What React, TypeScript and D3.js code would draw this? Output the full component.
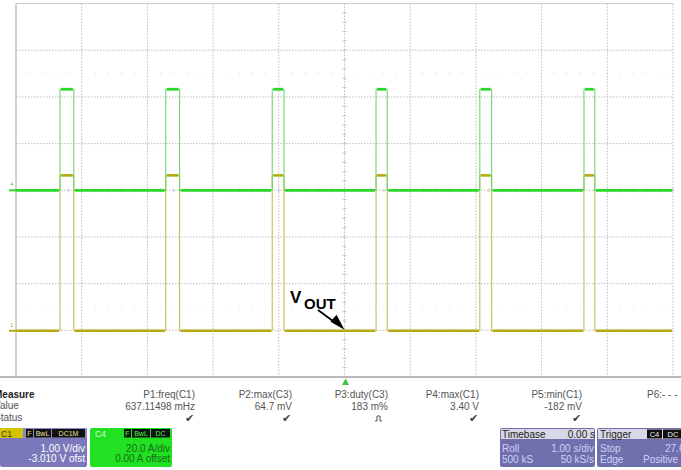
import React from 'react';
import * as d3 from 'd3';

const W = 681;
const H = 470;

// Timebase: 1.00 s/div, 10 divisions, centred on trigger at 0 s
const timeDomain = [-5, 5];
const timeDivTicks = [-4, -3, -2, -1, 0, 1, 2, 3, 4, 5];
const vertDivTicks = [-4, -3, -2, -1, 0, 1, 2, 3, 4];

// Pulse edges (seconds)
const pulseStarts = [-4.33, -2.72, -1.1, 0.48, 2.06, 3.645];
const pulseEnds = [-4.12, -2.51, -0.92, 0.65, 2.24, 3.81];

// C1 (Vout): 1.00 V/div, -3.010 V offset
const c1VoltsPerDiv = 1.0;
const c1Offset = -3.01;
const c1Low = 0.0;
const c1High = 3.33;

// C4 (current): 20.0 A/div, 0.00 A offset
const c4AmpsPerDiv = 20.0;
const c4Offset = 0;
const c4Low = 0.0;
const c4High = 43.3;

// Measurement table
const measureLabels = ['Measure', 'Value', 'Status'];
const paramNames = ['P1:freq(C1)', 'P2:max(C3)', 'P3:duty(C3)', 'P4:max(C1)', 'P5:min(C1)', 'P6:- - -'];
const paramValues = ['637.11498 mHz', '64.7 mV', '183 m%', '3.40 V', '-182 mV', ''];
const paramStatus = ['check', 'check', 'pulse', 'check', 'check', ''];

const FONT = '"Liberation Sans", Arial, sans-serif';

const X0 = 16, X1 = 673, Y0 = 3.6, Y1 = 377;

function buildTrace(low: number, high: number): [number, number][] {
  const pts: [number, number][] = [[timeDomain[0], low]];
  pulseStarts.forEach((s, i) => {
    pts.push([s, low], [s, high], [pulseEnds[i], high], [pulseEnds[i], low]);
  });
  pts.push([timeDomain[1], low]);
  return pts;
}

function flatSegments(low: number, high: number): [number, number, number][] {
  const segs: [number, number, number][] = [];
  let prev = timeDomain[0];
  pulseStarts.forEach((s, i) => {
    segs.push([prev, s, low]);
    segs.push([s, pulseEnds[i], high]);
    prev = pulseEnds[i];
  });
  segs.push([prev, timeDomain[1], low]);
  return segs;
}

export default function App() {
  const x = d3.scaleLinear().domain(timeDomain).range([X0, X1]);
  const div = d3.scaleLinear().domain([-4, 4]).range([Y1, Y0]);
  const yC1 = (v: number) => div((v + c1Offset) / c1VoltsPerDiv);
  const yC4 = (a: number) => div((a + c4Offset) / c4AmpsPerDiv);
  const cx = x(0);
  const cy = div(0);

  const lineC1 = d3.line<[number, number]>().x(d => x(d[0])).y(d => yC1(d[1]));
  const lineC4 = d3.line<[number, number]>().x(d => x(d[0])).y(d => yC4(d[1]));

  const yellow = '#b4ab10';
  const yellowEdge = '#c2b84a';
  const green = '#2ad82a';
  const greenEdge = '#5fd45f';
  const gridCol = '#bdbdbd';

  const minorY = d3.range(-4, 4.001, 0.2);
  const minorX = d3.range(-5, 5.001, 0.2);

  const colRight = [195, 292, 388, 479, 582, 684];
  const rowY = [397.5, 409.5];

  return (
    <svg width={W} height={H} style={{ position: 'absolute', left: 0, top: 0, background: '#fff' }} fontFamily={FONT}>
      <rect x={0} y={0} width={W} height={H} fill="#ffffff" />
      {/* grid */}
      {timeDivTicks.map(t => (
        <line key={'vx' + t} x1={x(t)} x2={x(t)} y1={Y0} y2={Y1} stroke={gridCol} strokeWidth={1} strokeDasharray="1.5,1.5" />
      ))}
      {vertDivTicks.map(d => (
        <line key={'hy' + d} x1={X0} x2={X1} y1={div(d)} y2={div(d)} stroke={gridCol} strokeWidth={1} strokeDasharray="1.5,1.5" />
      ))}
      {[-2.5, 2.5].map(d => (
        <line key={'fd' + d} x1={X0} x2={X1} y1={div(d)} y2={div(d)} stroke="#dedede" strokeWidth={1} strokeDasharray="1.5,11.6" />
      ))}
      {minorY.map(d => (
        <line key={'my' + d} x1={cx - 2} x2={cx + 2} y1={div(d)} y2={div(d)} stroke="#c4c4c4" strokeWidth={1} />
      ))}
      {minorX.map(t => (
        <line key={'mx' + t} x1={x(t)} x2={x(t)} y1={cy - 2} y2={cy + 2} stroke="#c4c4c4" strokeWidth={1} />
      ))}
      {/* border */}
      <line x1={X0} x2={X1} y1={Y0} y2={Y0} stroke="#cfcfcf" strokeWidth={1} />
      <line x1={X0} x2={X0} y1={Y0} y2={Y1} stroke="#a8a8a8" strokeWidth={1} />
      <line x1={0} x2={W} y1={Y1} y2={Y1} stroke="#b8b8b8" strokeWidth={2} />

      {/* channel markers */}
      <line x1={9} x2={X0} y1={yC1(0)} y2={yC1(0)} stroke={yellow} strokeWidth={2} />
      <text x={10} y={yC1(0) - 4} fontSize={6} fill={yellow}>1</text>
      <line x1={9} x2={X0} y1={yC4(0)} y2={yC4(0)} stroke={green} strokeWidth={2} />
      <text x={10} y={yC4(0) - 4} fontSize={6} fill="#6bc06b">4</text>

      {/* C1 trace */}
      <path d={lineC1(buildTrace(c1Low, c1High)) || ''} fill="none" stroke={yellowEdge} strokeWidth={1} />
      {flatSegments(c1Low, c1High).map((s, i) => (
        <line key={'c1s' + i} x1={x(s[0]) + (i > 0 ? 1 : 0)} x2={x(s[1]) - 1} y1={yC1(s[2])} y2={yC1(s[2])} stroke={yellow} strokeWidth={2.6} />
      ))}
      {/* C4 trace */}
      <path d={lineC4(buildTrace(c4Low, c4High)) || ''} fill="none" stroke={greenEdge} strokeWidth={1} />
      {flatSegments(c4Low, c4High).map((s, i) => (
        <line key={'c4s' + i} x1={x(s[0]) + (i > 0 ? 1 : 0)} x2={x(s[1]) - 1} y1={yC4(s[2])} y2={yC4(s[2])} stroke={green} strokeWidth={2.8} />
      ))}

      {/* VOUT annotation */}
      <text x={290} y={303} fontSize={17} fontWeight="bold" fill="#000">V</text>
      <text x={304} y={308.5} fontSize={15} fontWeight="bold" fill="#000">OUT</text>
      <line x1={318} x2={337} y1={310} y2={324} stroke="#000" strokeWidth={1.8} />
      <path d={`M${cx},${yC1(0) - 1} L${cx - 14},${yC1(0) - 9} L${cx - 8},${yC1(0) - 16} Z`} fill="#000" />

      {/* trigger marker */}
      <path d={`M${cx + 1},378.5 L${cx + 4.5},385 L${cx - 2.5},385 Z`} fill="#3cc83c" />

      {/* measurement table */}
      {measureLabels.map((l, i) => (
        <text key={l} x={-6} y={397.5 + i * 11.5} fontSize={10} fill={i === 0 ? '#222' : '#555'} fontWeight={i === 0 ? 'bold' : 'normal'}>{l}</text>
      ))}
      {paramNames.map((p, i) => (
        i < 5 ? (
          <text key={p} x={colRight[i]} y={rowY[0]} fontSize={10} fill="#555" textAnchor="end">{p}</text>
        ) : (
          <text key={p} x={647} y={rowY[0]} fontSize={10} fill="#555">{p}</text>
        )
      ))}
      {paramValues.map((v, i) => (
        <text key={'v' + i} x={colRight[i]} y={rowY[1]} fontSize={10} fill="#555" textAnchor="end">{v}</text>
      ))}
      {paramStatus.map((s, i) => s === 'check' ? (
        <text key={'s' + i} x={colRight[i] - 1} y={422} fontSize={11} fill="#444" textAnchor="end">✔</text>
      ) : s === 'pulse' ? (
        <path key={'s' + i} d={`M${colRight[i] - 13},421 h2 v-5 h3 v5 h2`} fill="none" stroke="#555" strokeWidth={1} />
      ) : null)}

      {/* C1 box */}
      <rect x={0} y={428} width={87} height={39} rx={2} fill="#7b79bb" />
      <rect x={0} y={428} width={87} height={10} fill="#8c8ac4" />
      <rect x={0} y={428} width={23} height={10} fill="#d4c400" />
      <text x={1} y={436.5} fontSize={8.5} fill="#333">C1</text>
      <rect x={26} y={429} width={7} height={8.5} fill="#111" />
      <text x={29.5} y={436} fontSize={7} fill="#e8e0a0" textAnchor="middle">F</text>
      <rect x={34} y={429} width={17} height={8.5} fill="#111" />
      <text x={42.5} y={436} fontSize={7} fill="#e8e0a0" textAnchor="middle">BwL</text>
      <rect x={52} y={429} width={33} height={8.5} fill="#111" />
      <text x={68.5} y={436} fontSize={7} fill="#e8e0a0" textAnchor="middle">DC1M</text>
      <text x={85} y={451.5} fontSize={10} fill="#fff" textAnchor="end">1.00 V/div</text>
      <text x={85} y={462} fontSize={10} fill="#fff" textAnchor="end">-3.010 V ofst</text>

      {/* C4 box */}
      <rect x={90} y={428} width={82} height={39} rx={2} fill="#22e022" />
      <text x={95} y={436.5} fontSize={8.5} fill="#d8ffd8">C4</text>
      <rect x={124} y={429} width={7} height={8.5} fill="#111" />
      <text x={127.5} y={436} fontSize={7} fill="#40ff40" textAnchor="middle">F</text>
      <rect x={132} y={429} width={18} height={8.5} fill="#111" />
      <text x={141} y={436} fontSize={7} fill="#40ff40" textAnchor="middle">BwL</text>
      <rect x={151} y={429} width={19} height={8.5} fill="#111" />
      <text x={160.5} y={436} fontSize={7} fill="#40ff40" textAnchor="middle">DC</text>
      <text x={170} y={451.5} fontSize={10} fill="#1b6b1b" textAnchor="end">20.0 A/div</text>
      <text x={170} y={462} fontSize={10} fill="#1b6b1b" textAnchor="end">0.00 A offset</text>

      {/* Timebase box */}
      <rect x={500} y={428} width={95} height={39} rx={2} fill="#6f6fae" />
      <rect x={501} y={429} width={93} height={10} fill="#d8d8e6" />
      <text x={502} y={437.5} fontSize={10} fill="#222">Timebase</text>
      <text x={595} y={437.5} fontSize={10} fill="#222" textAnchor="end">0.00 s</text>
      <text x={502} y={451.5} fontSize={10} fill="#d0d0f4">Roll</text>
      <text x={594} y={451.5} fontSize={10} fill="#d0d0f4" textAnchor="end">1.00 s/div</text>
      <text x={502} y={462.5} fontSize={10} fill="#d0d0f4">500 kS</text>
      <text x={594} y={462.5} fontSize={10} fill="#d0d0f4" textAnchor="end">50 kS/s</text>

      {/* Trigger box */}
      <rect x={597} y={428} width={90} height={39} rx={2} fill="#6f6fae" />
      <rect x={598} y={429} width={88} height={10} fill="#d8d8e6" />
      <text x={600} y={437.5} fontSize={10} fill="#222">Trigger</text>
      <rect x={647} y={429.5} width={15} height={9} fill="#111" />
      <text x={654.5} y={437} fontSize={7.5} fill="#eee" textAnchor="middle">C4</text>
      <rect x={663} y={429.5} width={20} height={9} fill="#111" />
      <text x={673} y={437} fontSize={7.5} fill="#eee" textAnchor="middle">DC</text>
      <text x={600} y={451.5} fontSize={10} fill="#d0d0f4">Stop</text>
      <text x={665} y={451.5} fontSize={10} fill="#d0d0f4">27.6 A</text>
      <text x={600} y={462.5} fontSize={10} fill="#d0d0f4">Edge</text>
      <text x={643} y={462.5} fontSize={10} fill="#d0d0f4">Positive</text>
    </svg>
  );
}
